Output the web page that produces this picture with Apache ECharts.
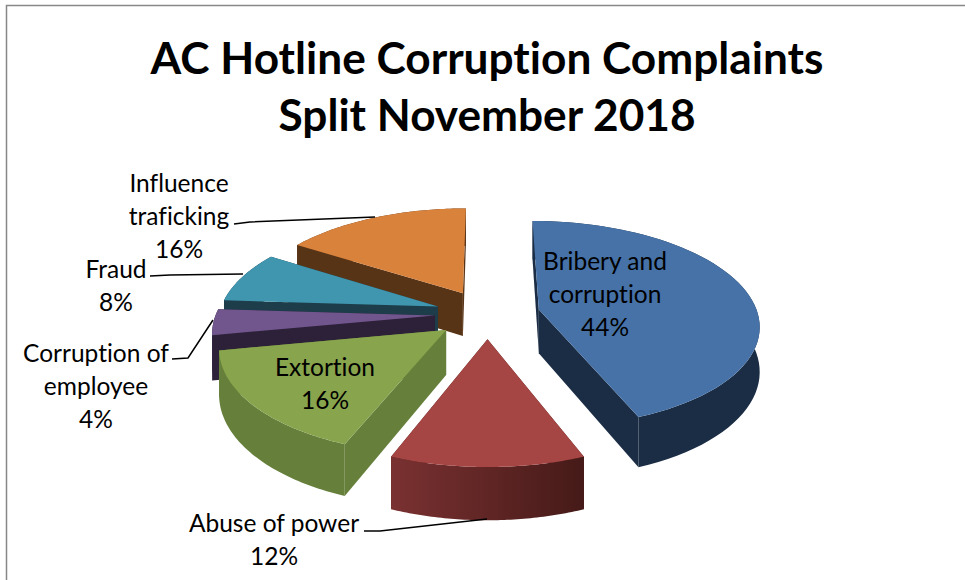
<!DOCTYPE html>
<html>
<head>
<meta charset="utf-8">
<style>html,body{margin:0;padding:0;background:#fff}#report_1{width:965px;height:580px}#report_1 text{font-variant-ligatures:none !important}</style>
<script src="https://cdn.jsdelivr.net/npm/echarts@6/dist/echarts.min.js"></script>
</head>
<body>
<div id="report_1"></div>
<script>
var categories = ['Bribery and\ncorruption', 'Abuse of power', 'Extortion', 'Corruption of\nemployee', 'Fraud', 'Influence\ntraficking'];
var values = [44, 12, 16, 4, 8, 16];
var topColors = ['#4672A8', '#A64644', '#88A44C', '#71558D', '#4096AF', '#D9823C'];
var wallColors = [['#1B2D45', '#1B2D45'], ['#7A3131', '#451A18'], ['#66803C', '#66803C'], ['#2D2139', '#2D2139'], ['#1C3D49', '#1C3D49'], ['#583417', '#583417']];
var labelPos = [[605, 293], [274, 539], [325, 383], [96, 385], [116, 285], [179, 215]];
var leaders = [null, [[364, 531], [380, 531], [487, 519]], null, [[172, 359], [188, 358], [213, 320]], [[150, 276], [170, 275], [243, 274]], [[234, 224], [250, 222], [375, 217]]];
var drawOrder = [5, 4, 3, 0, 2, 1];

var geo = { cx: 487.5, cy: 314, a: 219, b: 102, k: 0.14, e: 0.24, d: 44 };

function project(X, Y) {
	var s = 1 / (1 - geo.k * Y);
	return [geo.cx + geo.a * X * s, geo.cy + geo.b * Y * s, geo.d * s];
}

function sliceAngles(idx) {
	var total = 0, before = 0;
	for (var i = 0; i < values.length; i++) {
		total += values[i];
		if (i < idx) before += values[i];
	}
	return [before / total * 2 * Math.PI, (before + values[idx]) / total * 2 * Math.PI];
}

function renderSlice(params, api) {
	var idx = api.value(0);
	var ang = sliceAngles(idx);
	var mid = (ang[0] + ang[1]) / 2;
	var ox = geo.e * Math.sin(mid), oy = -geo.e * Math.cos(mid);
	var apex = project(ox, oy);
	var rim = [];
	var steps = 60;
	for (var i = 0; i <= steps; i++) {
		var t = ang[0] + (ang[1] - ang[0]) * i / steps;
		rim.push(project(ox + Math.sin(t), oy - Math.cos(t)));
	}
	var down = function(p) { return [p[0], p[1] + p[2]]; };
	var flat = function(p) { return [p[0], p[1]]; };
	var first = rim[0], last = rim[steps];
	var children = [];
	var fill = wallColors[idx];
	var grad = new echarts.graphic.LinearGradient(0, 0, 1, 0, [{ offset: 0, color: fill[0] }, { offset: 1, color: fill[1] }]);

	// cut faces, then outer wall, then the top goes over them
	children.push({ type: 'polygon', shape: { points: [flat(apex), flat(first), down(first), down(apex)] }, style: { fill: fill[1] } });
	children.push({ type: 'polygon', shape: { points: [flat(apex), flat(last), down(last), down(apex)] }, style: { fill: fill[1] } });
	var wall = rim.map(flat).concat(rim.slice().reverse().map(down));
	children.push({ type: 'polygon', shape: { points: wall }, style: { fill: grad } });
	children.push({ type: 'polygon', shape: { points: [flat(apex)].concat(rim.map(flat)) }, style: { fill: topColors[idx] } });
	return { type: 'group', children: children };
}

function renderLabel(params, api) {
	var idx = api.value(0);
	var children = [];
	if (leaders[idx]) {
		children.push({ type: 'polyline', shape: { points: leaders[idx] }, style: { stroke: '#000', lineWidth: 1.5, fill: null } });
	}
	children.push({
		type: 'text',
		style: {
			text: categories[idx] + '\n' + values[idx] + '%',
			x: labelPos[idx][0], y: labelPos[idx][1],
			align: 'center', verticalAlign: 'middle',
			font: '24.5px Lato', lineHeight: 33, fill: '#000'
		}
	});
	return { type: 'group', children: children };
}

var dom = document.getElementById('report_1');
var myChart = echarts.init(dom, null, { renderer: 'svg' });
var option = {
	animation: false,
	backgroundColor: '#fff',
	title: {
		text: 'AC Hotline Corruption Complaints\nSplit November 2018',
		left: 482, top: 23, textAlign: 'center',
		textStyle: { fontFamily: 'Lato', fontWeight: 'bold', fontSize: 44.2, lineHeight: 57, color: '#000' }
	},
	graphic: [
		{ type: 'polyline', silent: true, shape: { points: [[6.5, 580], [6.5, 5.5], [965, 5.5]] }, style: { stroke: '#888', lineWidth: 1.5, fill: null } }
	],
	series: [
		{ type: 'custom', coordinateSystem: 'none', silent: true, renderItem: renderSlice, data: drawOrder.map(function(i) { return [i, values[i]]; }), z: 2 },
		{ type: 'custom', coordinateSystem: 'none', silent: true, renderItem: renderLabel, data: values.map(function(v, i) { return [i, v]; }), z: 3 }
	]
};
myChart.setOption(option, true);
</script>
</body>
</html>
